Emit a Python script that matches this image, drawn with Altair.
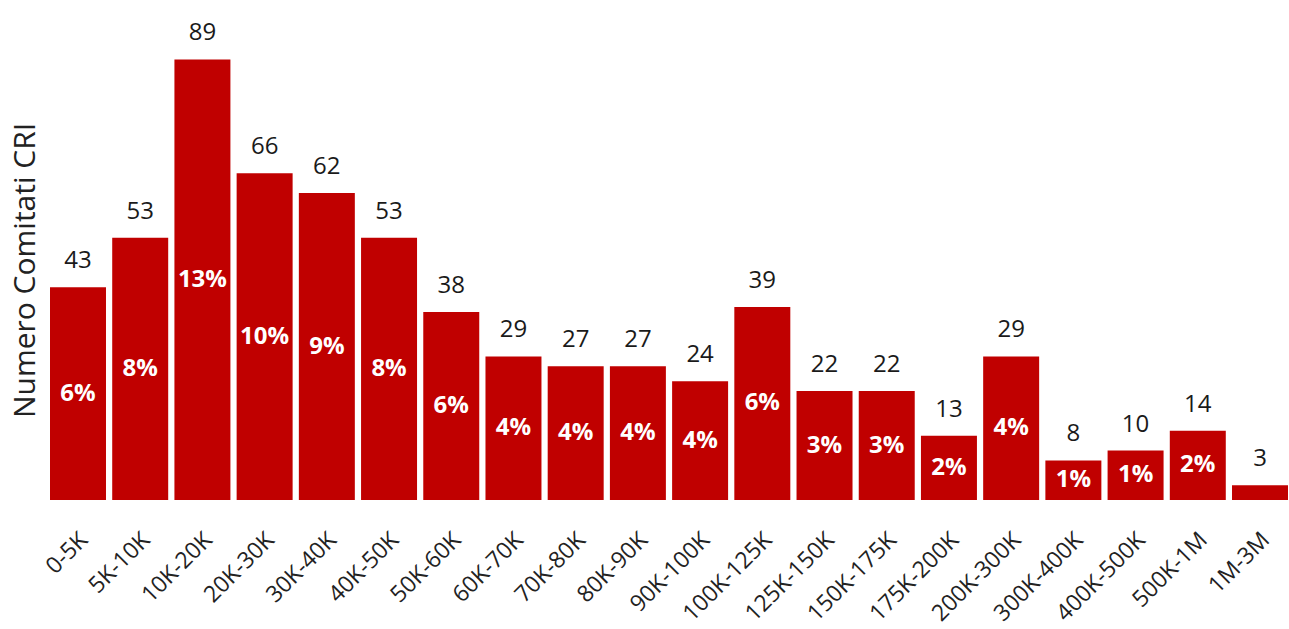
import altair as alt
import pandas as pd

categories = ["0-5K", "5K-10K", "10K-20K", "20K-30K", "30K-40K", "40K-50K", "50K-60K",
              "60K-70K", "70K-80K", "80K-90K", "90K-100K", "100K-125K", "125K-150K",
              "150K-175K", "175K-200K", "200K-300K", "300K-400K", "400K-500K", "500K-1M", "1M-3M"]
counts = [43, 53, 89, 66, 62, 53, 38, 29, 27, 27, 24, 39, 22, 22, 13, 29, 8, 10, 14, 3]
percents = ["6%", "8%", "13%", "10%", "9%", "8%", "6%", "4%", "4%", "4%", "4%", "6%",
            "3%", "3%", "2%", "4%", "1%", "1%", "2%", ""]

df = pd.DataFrame({"cat": categories, "n": counts, "pct": percents})
df["half"] = df["n"] / 2

FONT = "Open Sans"

x = alt.X("cat:N", sort=categories,
          scale=alt.Scale(paddingInner=0.1, paddingOuter=0.0),
          axis=alt.Axis(title=None, labelAngle=-45, labelAlign="right", labelBaseline="middle",
                        labelFontSize=23, labelFont=FONT, labelColor="#222222",
                        labelPadding=36, labelOffset=6, ticks=False, domain=False, grid=False,
                        labelOverlap=False, labelLimit=300))
yscale = alt.Scale(domain=[0, 100], nice=False)

bars = alt.Chart(df).mark_bar(color="#C00000").encode(
    x=x,
    y=alt.Y("n:Q", scale=yscale,
            axis=alt.Axis(title="Numero Comitati CRI", titleFont=FONT, titleFontSize=30,
                          titleFontWeight="normal", titleColor="#222222",
                          labels=False, ticks=False, domain=False, grid=False,
                          titleX=-25, titleY=265, titleAngle=-90, titleBaseline="middle",
                          titleAlign="center")),
)

top_labels = alt.Chart(df).mark_text(baseline="bottom", dy=-14, fontSize=24, font=FONT,
                                     color="#1a1a1a").encode(
    x=alt.X("cat:N", sort=categories),
    y=alt.Y("n:Q", scale=yscale),
    text=alt.Text("n:Q"),
)

pct_labels = alt.Chart(df).mark_text(baseline="middle", fontSize=24, font=FONT,
                                     fontWeight="bold", color="white").encode(
    x=alt.X("cat:N", sort=categories),
    y=alt.Y("half:Q", scale=yscale),
    text=alt.Text("pct:N"),
)

chart = alt.layer(bars, top_labels, pct_labels).properties(
    width=1238, height=495,
    padding={"left": 50, "top": 5, "right": 1, "bottom": 129},
    autosize=alt.AutoSizeParams(type="none"),
    background="white",
).configure_view(stroke=None)

chart.save("out.html", embed_options={"renderer": "svg", "actions": False})
